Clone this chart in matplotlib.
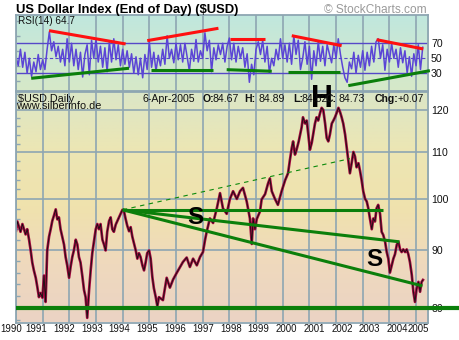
import numpy as np
import matplotlib
matplotlib.use('Agg')
import matplotlib.pyplot as plt
from matplotlib import font_manager
from matplotlib.colors import LinearSegmentedColormap
from matplotlib.ticker import FixedLocator, NullFormatter, FixedFormatter

# ---------------- data ----------------
price_years = [
    1990.00, 1990.05, 1990.17, 1990.24, 1990.36, 1990.42, 1990.49, 1990.55, 1990.61, 1990.67,
    1990.74, 1990.80, 1990.86, 1990.92, 1990.99, 1991.05, 1991.11, 1991.17, 1991.24, 1991.30,
    1991.36, 1991.42, 1991.49, 1991.55, 1991.61, 1991.67, 1991.74, 1991.80, 1991.86, 1991.92,
    1991.99, 1992.05, 1992.11, 1992.17, 1992.24, 1992.30, 1992.36, 1992.42, 1992.49, 1992.55,
    1992.61, 1992.67, 1992.74, 1992.80, 1992.86, 1992.92, 1992.99, 1993.05, 1993.11, 1993.17,
    1993.24, 1993.30, 1993.36, 1993.42, 1993.49, 1993.55, 1993.61, 1993.67, 1993.74, 1993.80,
    1993.86, 1993.92, 1993.99, 1994.05, 1994.11, 1994.17, 1994.24, 1994.30, 1994.36, 1994.42,
    1994.49, 1994.55, 1994.61, 1994.67, 1994.74, 1994.80, 1994.86, 1994.92, 1994.99, 1995.05,
    1995.11, 1995.17, 1995.24, 1995.30, 1995.36, 1995.51, 1995.65, 1995.77, 1995.89, 1996.03,
    1996.15, 1996.26, 1996.40, 1996.52, 1996.64, 1996.78, 1996.90, 1997.01, 1997.09, 1997.15,
    1997.27, 1997.39, 1997.53, 1997.65, 1997.76, 1997.90, 1998.02, 1998.14, 1998.28, 1998.40,
    1998.51, 1998.65, 1998.77, 1998.84, 1998.89, 1998.96, 1999.03, 1999.15, 1999.21, 1999.34,
    1999.45, 1999.52, 1999.59, 1999.71, 1999.82, 1999.96, 2000.09, 2000.20, 2000.27, 2000.34,
    2000.39, 2000.46, 2000.52, 2000.60, 2000.71, 2000.76, 2000.84, 2000.90, 2000.96, 2001.02,
    2001.09, 2001.14, 2001.21, 2001.27, 2001.33, 2001.40, 2001.46, 2001.52, 2001.59, 2001.65,
    2001.71, 2001.77, 2001.84, 2001.90, 2001.96, 2002.02, 2002.09, 2002.15, 2002.21, 2002.27,
    2002.34, 2002.40, 2002.46, 2002.52, 2002.59, 2002.65, 2002.71, 2002.77, 2002.84, 2002.90,
    2002.96, 2003.02, 2003.09, 2003.15, 2003.21, 2003.27, 2003.34, 2003.40, 2003.46, 2003.52,
    2003.58, 2003.65, 2003.71, 2003.77, 2003.84, 2003.90, 2003.96, 2004.02, 2004.09, 2004.15,
    2004.21, 2004.28, 2004.34, 2004.40, 2004.46, 2004.52, 2004.59, 2004.65, 2004.71, 2004.77,
    2004.84, 2004.90, 2004.96, 2005.02, 2005.09, 2005.15, 2005.21, 2005.26,
]
price_close = [
    93.7, 95.5, 93.5, 95.0, 93.0, 94.0, 92.0, 90.0, 87.8, 86.4,
    85.1, 83.5, 81.8, 82.5, 81.7, 85.5, 81.0, 90.0, 92.6, 94.0,
    95.6, 96.6, 97.9, 95.9, 96.3, 94.0, 92.4, 91.1, 88.8, 87.3,
    85.1, 87.1, 88.8, 90.0, 92.0, 91.1, 88.8, 87.8, 85.3, 83.0,
    81.8, 78.4, 83.0, 86.4, 89.5, 91.5, 94.0, 95.0, 94.0, 95.0,
    92.0, 91.1, 90.0, 93.5, 95.6, 96.3, 94.0, 93.5, 94.9, 95.6,
    96.3, 97.0, 97.8, 97.5, 96.0, 94.7, 93.6, 94.4, 92.6, 91.4,
    90.0, 88.5, 89.5, 88.8, 87.3, 86.4, 87.8, 89.5, 90.0, 88.5,
    85.3, 83.3, 81.8, 80.3, 81.8, 81.3, 85.1, 83.4, 84.8, 86.0,
    87.0, 87.9, 88.7, 87.0, 88.5, 87.3, 88.8, 89.7, 92.0, 93.5,
    96.1, 95.2, 98.1, 101.2, 98.1, 97.0, 100.0, 101.6, 100.0, 101.6,
    102.3, 99.5, 96.1, 91.2, 96.1, 94.0, 96.0, 97.5, 99.9, 101.0,
    103.2, 104.3, 101.6, 100.0, 98.8, 101.6, 103.9, 105.4, 108.3, 111.0,
    112.5, 109.5, 110.6, 112.5, 115.8, 118.2, 116.7, 117.4, 114.1, 110.6,
    112.2, 114.1, 116.7, 118.2, 117.4, 119.2, 120.5, 120.0, 116.7, 113.3,
    112.5, 114.1, 116.7, 117.4, 118.2, 119.2, 120.5, 119.5, 118.2, 116.7,
    114.1, 111.1, 108.3, 105.4, 107.8, 110.1, 109.1, 106.7, 107.6, 105.9,
    103.9, 101.6, 100.0, 99.5, 98.1, 96.1, 94.0, 96.1, 95.5, 98.1,
    98.8, 97.0, 93.5, 92.9, 91.6, 89.7, 88.5, 86.0, 87.3, 88.5,
    89.3, 91.1, 91.6, 90.2, 89.7, 90.2, 89.7, 90.2, 89.3, 87.9,
    85.6, 82.7, 81.0, 83.2, 84.4, 82.7, 84.4, 84.73,
]

# RSI(14), monthly readings starting Jan 1990
rsi_start = 1990.0
rsi_values = [
    52, 40, 62, 38, 58, 30, 50, 26, 45, 32, 55, 35,
    48, 35, 62, 85, 60, 72, 52, 66, 45, 62, 40, 76,
    45, 70, 40, 62, 35, 58, 25, 55, 68, 28, 74, 50,
    76, 45, 66, 38, 64, 32, 72, 45, 76, 48, 68, 40,
    62, 42, 60, 38, 56, 30, 52, 28, 50, 24, 55, 35,
    72, 38, 58, 33, 54,
    40, 62, 42, 80, 50, 62, 44,
    70, 48, 68, 45, 70, 52, 33, 62, 46, 75, 45, 60,
    50, 84, 60, 74, 32, 64, 48, 68, 55, 70, 45, 66,
    77, 48, 70, 45, 66, 50, 64, 38, 56, 18, 42, 28,
    62, 72, 55, 74, 45, 66, 30, 50, 40, 62, 48, 76,
    50, 68, 45, 70, 42, 80, 55, 74, 35,
    50, 72, 42, 66, 22, 60, 40, 72, 46, 66, 40, 68,
    56, 44, 68, 50, 76, 55, 38, 24, 18, 45, 36, 58,
    30, 54, 38, 60, 34, 58, 40, 66, 45, 72, 76, 50,
    68, 34, 62, 45, 70, 50, 62, 38, 64, 44, 60, 30,
    52, 26, 56, 40, 68, 35, 64.7,
]

# trend lines drawn on the chart: (x0, y0, x1, y1)
price_green_lines = [
    (1994.00, 97.8, 2003.75, 97.8),
    (1994.00, 97.8, 2004.38, 91.6),
    (1994.00, 97.8, 2005.24, 83.7),
]
price_dashed_line = (1994.00, 97.8, 2002.52, 108.6)
support_level = 80.0
rsi_red_lines = [
    (1991.24, 86.8, 1994.11, 69.1),
    (1994.92, 73.5, 1997.59, 90.0),
    (1998.02, 75.7, 1999.34, 75.7),
    (2000.34, 80.1, 2002.21, 66.8),
    (2003.52, 74.8, 2005.27, 62.4),
]
rsi_green_lines = [
    (1990.57, 23.3, 1994.24, 36.7),
    (1995.05, 34.5, 1997.40, 34.5),
    (1997.90, 34.8, 1999.59, 32.7),
    (2000.21, 31.7, 2002.15, 31.7),
    (2002.46, 13.5, 2005.52, 33.5),
]
years = list(range(1990, 2006))
year_labels = [str(y) for y in years]
price_ticks = [80, 90, 100, 110, 120]
rsi_ticks = [30, 50, 70]

# ---------------- layout ----------------
W, H = 460, 340
fig = plt.figure(figsize=(4.6, 3.4), dpi=100)
fig.patch.set_facecolor('white')
plt.rcParams['font.family'] = ['Liberation Sans', 'DejaVu Sans']

installed = {f.name for f in font_manager.fontManager.ttflist}
if 'Liberation Sans Narrow' in installed:
    year_font, year_size = 'Liberation Sans Narrow', 8.0
else:
    year_font, year_size = 'Liberation Sans', 6.9

def fx(px):
    return px / W

def fy(py):
    return 1 - py / H

L, R = 16, 428.3
rsi_top, split, bot = 15, 91.5, 322.5
rect_r = [fx(L), fy(split), fx(R) - fx(L), fy(rsi_top) - fy(split)]
rect_p = [fx(L), fy(bot), fx(R) - fx(L), fy(split) - fy(bot)]

def background(rect, colors):
    bg = fig.add_axes(rect, zorder=0)
    cmap = LinearSegmentedColormap.from_list('bg', colors)
    bg.imshow(np.linspace(0, 1, 256).reshape(-1, 1), aspect='auto', cmap=cmap,
              extent=[0, 1, 0, 1], origin='upper')
    bg.set_axis_off()

background(rect_r, ['#bfe7de', '#cde8d2', '#d6e9c8'])
background(rect_p, ['#dbe6c7', '#ece6b4', '#f0e2ad', '#efd9bd', '#ebd3c4'])

ax_r = fig.add_axes(rect_r, zorder=1)
ax_p = fig.add_axes(rect_p, zorder=1)

grid_c = '#8ea6b2'
xmin, xmax = 1990.0, 1990 + (R - L) / 26.67

for ax in (ax_r, ax_p):
    ax.set_facecolor('none')
    for s in ax.spines.values():
        s.set_color(grid_c)
        s.set_linewidth(1.3)
    ax.xaxis.set_major_locator(FixedLocator(years))
    ax.xaxis.set_major_formatter(NullFormatter())
    ax.tick_params(axis='x', which='both', length=0)
    ax.grid(axis='x', which='major', color=grid_c, lw=1.2, zorder=0)
    ax.set_axisbelow(True)

# ---- RSI panel ----
rsi_x = rsi_start + np.arange(len(rsi_values)) / 12.0
ax_r.axhline(70, color='#5548c8', lw=1.0, zorder=1)
ax_r.axhline(30, color='#5548c8', lw=1.0, zorder=1)
ax_r.axhline(50, color='#5548c8', lw=0.8, ls=(0, (3, 2)), zorder=1)
ax_r.plot(rsi_x, rsi_values, color='#5b45d6', lw=1.1, zorder=2)
for (x0, y0, x1, y1) in rsi_red_lines:
    ax_r.plot([x0, x1], [y0, y1], color='#ff1010', lw=2.2, zorder=3, solid_capstyle='butt')
for (x0, y0, x1, y1) in rsi_green_lines:
    ax_r.plot([x0, x1], [y0, y1], color='#0b7f0b', lw=2.2, zorder=3, solid_capstyle='butt',
              clip_on=False)
ax_r.set_xlim(xmin, xmax)
ax_r.set_ylim(5.7, 107.7)
ax_r.yaxis.set_major_locator(FixedLocator(rsi_ticks))
ax_r.yaxis.set_major_formatter(FixedFormatter([str(t) for t in rsi_ticks]))
ax_r.yaxis.set_minor_locator(FixedLocator([20, 40, 60, 80, 100]))
ax_r.tick_params(axis='y', which='major', left=False, right=False, labelleft=False,
                 labelright=True, length=0, pad=2, labelsize=7.6, labelcolor='#111111')
ax_r.tick_params(axis='y', which='minor', left=True, right=False, direction='in',
                 length=3, color=grid_c, width=1)
ax_r.text(0.005, 0.985, 'RSI(14) 64.7', transform=ax_r.transAxes, ha='left', va='top',
          fontsize=7.2, color='#111111')

# ---- price panel ----
ax_p.set_yscale('log')
ax_p.plot(price_years, price_close, color='#a3093f', lw=1.9, zorder=2)
ax_p.plot(price_years, price_close, color='#111111', lw=0.6, zorder=2)
ax_p.plot([1990.0, 2006.7], [support_level, support_level], color='#0b7f0b', lw=3.0,
          zorder=4, clip_on=False, solid_capstyle='butt')
for (x0, y0, x1, y1) in price_green_lines:
    ax_p.plot([x0, x1], [y0, y1], color='#0b7f0b', lw=2.2, zorder=4, solid_capstyle='butt')
x0, y0, x1, y1 = price_dashed_line
ax_p.plot([x0, x1], [y0, y1], color='#0b8a0b', lw=0.8, ls=(0, (4, 4)), zorder=3)
ax_p.set_xlim(xmin, xmax)
ax_p.set_ylim(77.66, 124.6)
ax_p.yaxis.set_major_locator(FixedLocator(price_ticks))
ax_p.yaxis.set_major_formatter(FixedFormatter([str(t) for t in price_ticks]))
ax_p.yaxis.set_minor_locator(FixedLocator(list(range(78, 125, 2))))
ax_p.yaxis.set_minor_formatter(NullFormatter())
ax_p.tick_params(axis='y', which='major', left=False, right=False, labelleft=False,
                 labelright=True, length=0, pad=2, labelsize=7.6, labelcolor='#111111')
ax_p.tick_params(axis='y', which='minor', left=True, right=False, direction='in',
                 length=3, color=grid_c, width=1)
ax_p.grid(axis='y', which='major', color=grid_c, lw=1.2, zorder=0)

# annotation letters
ax_p.text(2001.47, 122.6, 'H', fontsize=22, fontweight='bold', ha='center', va='center',
          color='black', zorder=6, clip_on=False)
ax_p.text(1996.71, 96.2, 'S', fontsize=17.5, fontweight='bold', ha='center', va='center',
          color='black', zorder=6)
ax_p.text(2003.44, 88.4, 'S', fontsize=17.5, fontweight='bold', ha='center', va='center',
          color='black', zorder=6)

# header texts inside price panel
fig.text(fx(17.5), fy(101.5), '$USD Daily', fontsize=7.8, ha='left', va='baseline',
         color='#111111', zorder=5)
fig.text(fx(16.5), fy(109.4), 'www.silberinfo.de', fontsize=7.8, ha='left', va='baseline',
         color='#111111', zorder=5)
header = [('6-Apr-2005', 143, 'normal'), ('O:', 203, 'bold'), ('84.67', 212.5, 'normal'),
          ('H:', 244, 'bold'), ('84.89', 258.5, 'normal'), ('L:', 293, 'bold'),
          ('84.52', 302, 'normal'), ('C:', 326, 'bold'), ('84.73', 339, 'normal'),
          ('Chg:', 374.5, 'bold'), ('+0.07', 398, 'normal')]
for txt, px, wt in header:
    fig.text(fx(px), fy(101.8), txt, fontsize=7.6, fontweight=wt, ha='left',
             va='baseline', color='#111111', zorder=5)

# title and copyright
fig.text(fx(16.5), fy(12.7), 'US Dollar Index (End of Day) ($USD)', fontsize=9.4,
         fontweight='bold', ha='left', va='baseline', color='black')
fig.text(fx(427), fy(13.3), '\u00a9 StockCharts.com', fontsize=8.6, ha='right',
         va='baseline', color='#9a9a9a')

# year labels along the bottom
n = len(year_labels)
for i, lab in enumerate(year_labels):
    if i == 0:
        px, ha = 0.5, 'left'
    elif i == n - 1:
        px, ha = 428.5, 'right'
    else:
        px, ha = 8.3 + 27.8 * i, 'center'
    fig.text(fx(px), fy(329.3), lab, fontsize=year_size, family=year_font, ha=ha,
             va='center', color='#111111')

fig.savefig('out.png', dpi=100, facecolor='white')
